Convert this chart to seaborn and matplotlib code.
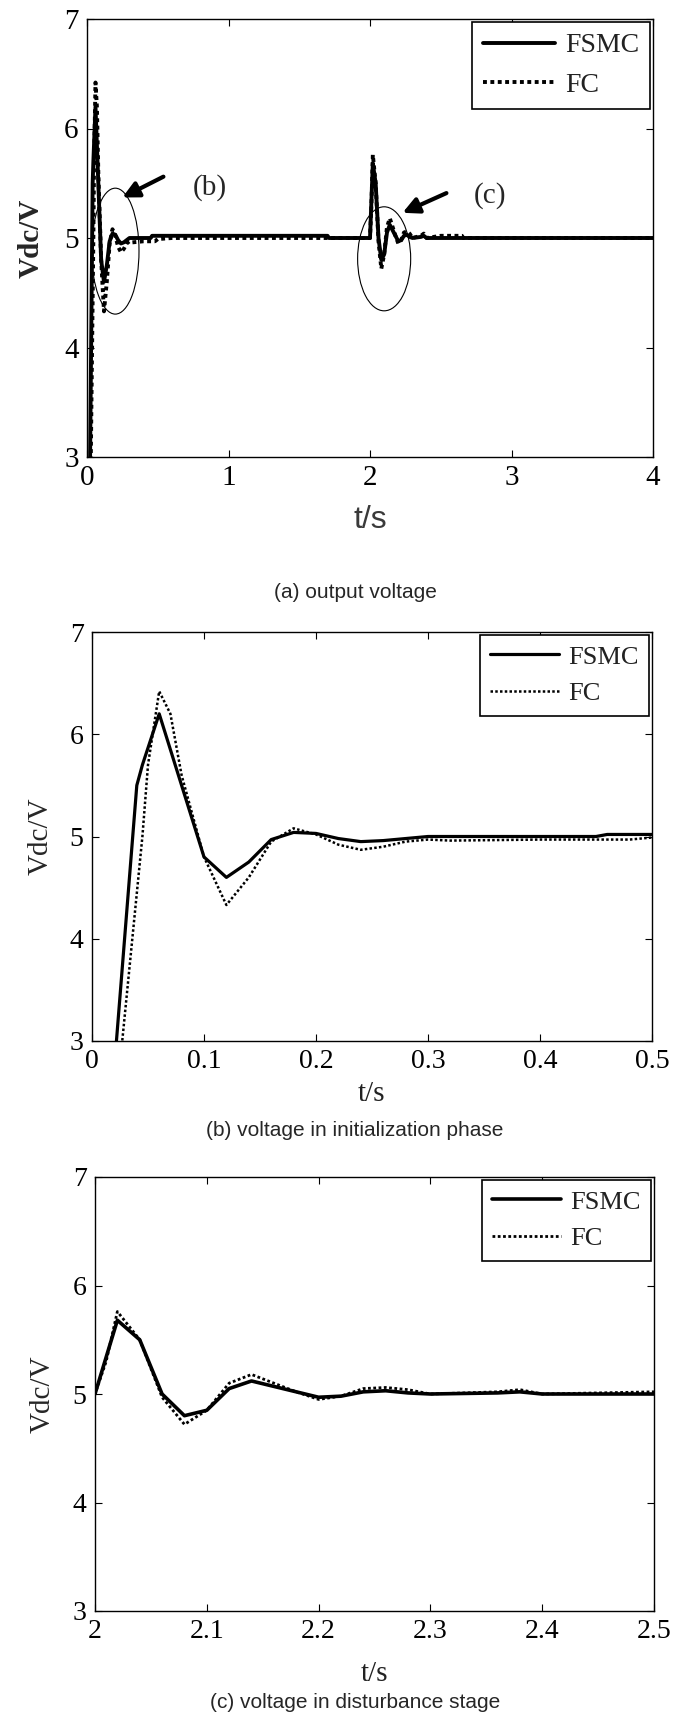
import numpy as np
import pandas as pd
import matplotlib
matplotlib.use("Agg")
import matplotlib.pyplot as plt
import seaborn as sns
from matplotlib.patches import Ellipse

# Settings
sns.set_style("ticks")
plt.rcParams["font.family"] = ["Liberation Serif", "DejaVu Serif"]
plt.rcParams["xtick.direction"] = "in"
plt.rcParams["ytick.direction"] = "in"
plt.rcParams["xtick.top"] = True
plt.rcParams["ytick.right"] = True
plt.rcParams["axes.edgecolor"] = "black"
plt.rcParams["axes.linewidth"] = 1.0

# ------------------------
# Data
# ------------------------
t_fsmc = [0, 0.04, 0.045, 0.06, 0.08, 0.1, 0.12, 0.14, 0.16, 0.18, 0.2, 0.22,
          0.24, 0.26, 0.28, 0.3, 0.45, 0.46, 1.7, 1.71, 2.0, 2.02, 2.04, 2.06,
          2.08, 2.1, 2.12, 2.14, 2.16, 2.18, 2.2, 2.22, 2.24, 2.26, 2.28, 2.3,
          2.36, 2.38, 2.4, 4.0]
v_fsmc = [0, 5.5, 5.7, 6.2, 5.5, 4.8, 4.6, 4.75, 4.97, 5.04, 5.03, 4.98,
          4.95, 4.96, 4.98, 5.0, 5.0, 5.02, 5.02, 5.0, 5.0, 5.68, 5.5, 5.0,
          4.8, 4.85, 5.05, 5.12, 5.07, 5.02, 4.97, 4.98, 5.02, 5.03, 5.01, 5.0,
          5.01, 5.02, 5.0, 5.0]

t_fc = [0, 0.045, 0.05, 0.06, 0.07, 0.08, 0.1, 0.12, 0.14, 0.16, 0.18, 0.2,
        0.22, 0.24, 0.26, 0.28, 0.3, 0.32, 0.4, 0.48, 0.5, 0.6, 2.0, 2.01,
        2.02, 2.04, 2.06, 2.08, 2.1, 2.12, 2.14, 2.16, 2.18, 2.2, 2.22, 2.24,
        2.26, 2.28, 2.3, 2.36, 2.38, 2.4, 2.5, 2.65, 2.66, 4.0]
v_fc = [0, 5.0, 5.7, 6.42, 6.2, 5.6, 4.8, 4.33, 4.6, 4.95, 5.08, 5.02,
        4.92, 4.87, 4.9, 4.95, 4.97, 4.96, 4.97, 4.97, 4.99, 5.0, 5.0, 5.3,
        5.76, 5.5, 4.97, 4.72, 4.85, 5.1, 5.18, 5.1, 5.02, 4.95, 4.98, 5.05,
        5.06, 5.04, 5.0, 5.02, 5.04, 5.0, 5.02, 5.02, 5.0, 5.0]

xlims = [(0, 4), (0, 0.5), (2, 2.5)]
xticks = [[0, 1, 2, 3, 4],
          [0, 0.1, 0.2, 0.3, 0.4, 0.5],
          [2, 2.1, 2.2, 2.3, 2.4, 2.5]]
xticklabels = [["0", "1", "2", "3", "4"],
               ["0", "0.1", "0.2", "0.3", "0.4", "0.5"],
               ["2", "2.1", "2.2", "2.3", "2.4", "2.5"]]
yticks = [3, 4, 5, 6, 7]
captions = ["(a) output voltage", "(b) voltage in initialization phase",
            "(c) voltage in disturbance stage"]

df_fsmc = pd.DataFrame({"t": t_fsmc, "v": v_fsmc})
df_fc = pd.DataFrame({"t": t_fc, "v": v_fc})

# ------------------------
# Figure layout (pixels of a 677x1720 canvas)
# ------------------------
W, H = 677, 1720
fig = plt.figure(figsize=(W / 100, H / 100), dpi=100)
boxes = [(87, 19, 653, 457), (92, 632, 652, 1041), (95, 1177, 654, 1611)]
caption_y = [592, 1130, 1703]
ylabel_x = [-0.099, -0.091, -0.093]
xlabel_y = [-0.144, -0.130, -0.145]
tick_fs = [21, 20, 20]
lw_fsmc = [2.8, 2.3, 2.6]
lw_fc = [2.8, 1.8, 2.0]

for i, (l, t, r, b) in enumerate(boxes):
    ax = fig.add_axes([l / W, 1 - b / H, (r - l) / W, (b - t) / H])
    sns.lineplot(data=df_fsmc, x="t", y="v", ax=ax, color="black", lw=lw_fsmc[i],
                 label="FSMC", estimator=None, sort=False)
    sns.lineplot(data=df_fc, x="t", y="v", ax=ax, color="black", lw=lw_fc[i],
                 linestyle=(0, (1, 0.9)), label="FC", estimator=None, sort=False)
    ax.set_xlim(*xlims[i])
    ax.set_ylim(3, 7)
    ax.set_xticks(xticks[i])
    ax.set_xticklabels(xticklabels[i])
    ax.set_yticks(yticks)
    ax.tick_params(length=5, width=0.8, labelsize=tick_fs[i], pad=6, colors="black")
    for sp in ax.spines.values():
        sp.set_visible(True)
        sp.set_color("black")

    weight = "bold" if i == 0 else "normal"
    ax.set_ylabel("Vdc/V", fontsize=21, fontweight=weight, va="center")
    ax.yaxis.set_label_coords(ylabel_x[i], 0.5)
    if i == 0:
        ax.set_xlabel("t/s", fontsize=23, family=["Liberation Sans", "DejaVu Sans"],
                      color="#3a3a3a", va="center")
    else:
        ax.set_xlabel("t/s", fontsize=21, color="#222222", va="center")
    ax.xaxis.set_label_coords(0.5, xlabel_y[i])

    leg = ax.legend(loc="upper right", fontsize=20 if i == 0 else 19,
                    frameon=True, fancybox=False, framealpha=1, edgecolor="black",
                    borderaxespad=0.1, borderpad=0.4, labelspacing=0.5,
                    handlelength=2.6, handletextpad=0.35)
    leg.get_frame().set_linewidth(1.2)
    for txt in leg.get_texts():
        txt.set_color("#222222")

    if i == 0:
        ax.add_patch(Ellipse((0.2, 4.88), width=0.335, height=1.15, fill=False,
                             lw=0.8, ec="black"))
        ax.add_patch(Ellipse((2.10, 4.81), width=0.375, height=0.95, fill=False,
                             lw=0.8, ec="black"))
        arrow = dict(arrowstyle="-|>", lw=3, color="black", mutation_scale=24,
                     shrinkA=0, shrinkB=0)
        ax.annotate("", xy=(0.25, 5.37), xytext=(0.54, 5.56), arrowprops=arrow)
        ax.annotate("", xy=(2.23, 5.23), xytext=(2.54, 5.41), arrowprops=arrow)
        ax.text(0.87, 5.46, "(b)", fontsize=21, ha="center", va="center")
        ax.text(2.85, 5.39, "(c)", fontsize=21, ha="center", va="center")

    fig.text(355 / W, 1 - caption_y[i] / H, captions[i], fontsize=15,
             family=["Liberation Sans", "DejaVu Sans"], ha="center", va="center")

fig.savefig("out.png", dpi=100)
